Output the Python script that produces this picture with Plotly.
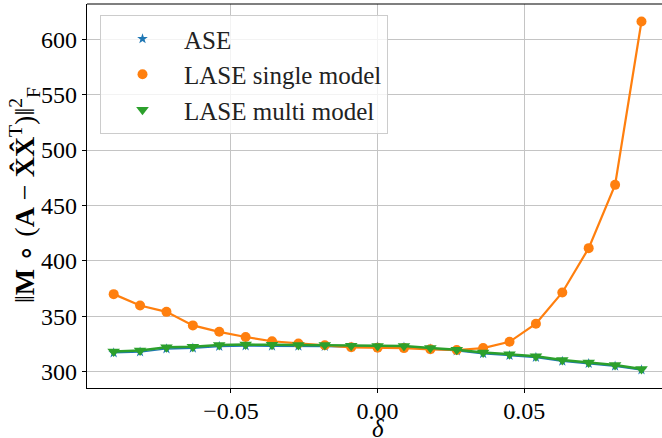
import plotly.graph_objects as go

delta = [-0.09, -0.081, -0.072, -0.063, -0.054, -0.045, -0.036, -0.027, -0.018, -0.009,
         0.0, 0.009, 0.018, 0.027, 0.036, 0.045, 0.054, 0.063, 0.072, 0.081, 0.09]

ase = [317.0, 317.8, 320.6, 321.2, 322.8, 323.3, 323.0, 323.0, 322.8, 322.3,
       322.3, 322.2, 320.6, 318.8, 316.3, 314.6, 312.9, 309.4, 307.4, 305.0, 301.6]

lase_single = [370.0, 359.7, 354.0, 341.8, 336.0, 331.3, 327.5, 325.4, 323.8, 322.0,
               321.7, 321.3, 320.2, 319.6, 321.3, 327.0, 343.3, 371.5, 411.5, 468.6, 616.0]

lase_multi = [318.3, 319.2, 322.0, 322.5, 324.0, 324.5, 324.3, 324.2, 324.0, 323.4,
              323.3, 323.2, 321.5, 319.8, 317.4, 315.8, 314.0, 310.5, 308.4, 306.0, 302.5]

x_ticks = [-0.05, 0.0, 0.05]
x_ticklabels = ["\u22120.05", "0.00", "0.05"]
y_ticks = [300, 350, 400, 450, 500, 550, 600]

FONT = "Liberation Serif"

series = [
    ("ASE", ase, "#1f77b4", 1.5, "star", 8, "a"),
    ("LASE single model", lase_single, "#ff7f0e", 2.2, "circle", 10, "b"),
    ("LASE multi model", lase_multi, "#2ca02c", 2.5, "triangle-down", 11, "c"),
]

fig = go.Figure()
for name, vals, color, lw, sym, ms, grp in series:
    fig.add_trace(go.Scatter(x=delta, y=vals, name=name, mode="lines",
                             legendgroup=grp, showlegend=False,
                             line=dict(color=color, width=lw)))
    fig.add_trace(go.Scatter(x=delta, y=vals, name=name, mode="markers",
                             legendgroup=grp, showlegend=True,
                             marker=dict(symbol=sym, size=ms, color=color)))

W, H = 662, 438
ML, MR, MT, MB = 87, 0, 4, 50

fig.update_layout(
    width=W, height=H,
    margin=dict(l=ML, r=MR, t=MT, b=MB, autoexpand=False),
    paper_bgcolor="white", plot_bgcolor="white",
    font=dict(family=FONT, size=24, color="black"),
    legend=dict(x=(100 - ML) / (W - ML - MR), y=1 - (15 - MT) / (H - MT - MB),
                xanchor="left", yanchor="top",
                bgcolor="rgba(255,255,255,0.8)", bordercolor="#cccccc", borderwidth=1,
                font=dict(family=FONT, size=25, color="#222222"),
                traceorder="grouped", tracegroupgap=0, itemwidth=73),
    xaxis=dict(range=[-0.0991, 0.0970], tickmode="array", tickvals=x_ticks,
               ticktext=x_ticklabels, showgrid=True, gridcolor="#c4c4c4", gridwidth=1,
               zeroline=False, showline=True, linecolor="black", linewidth=1.2,
               ticks="outside", ticklen=4, tickcolor="black", automargin=False,
               ticklabelstandoff=-3),
    yaxis=dict(range=[285.3, 631.8], tickmode="array", tickvals=y_ticks,
               showgrid=True, gridcolor="#c4c4c4", gridwidth=1,
               zeroline=False, showline=True, linecolor="black", linewidth=1.2,
               ticks="outside", ticklen=4, tickcolor="black", automargin=False),
    shapes=[dict(type="line", xref="paper", yref="paper", x0=0, x1=1, y0=1, y1=1,
                 line=dict(color="black", width=1.2))],
    annotations=[
        dict(text="<i>\u03b4</i>", xref="x", yref="paper", x=0.0,
             y=-(428 - (H - MB)) / (H - MT - MB), xanchor="center", yanchor="middle",
             showarrow=False, font=dict(family=FONT, size=25)),
        dict(text="\u2016<b>M</b> \u2218 (<b>A</b> \u2212 <b>X\u0302X\u0302</b><sup>T</sup>)\u2016<sup>2</sup><sub>F</sub>",
             xref="paper", yref="paper", x=-(ML - 25) / (W - ML - MR),
             y=1 - (195 - MT) / (H - MT - MB), xanchor="center", yanchor="middle",
             textangle=-90, showarrow=False, font=dict(family=FONT, size=28)),
    ],
)

fig.write_html("out.html", config={"displayModeBar": False},
               post_script="document.body.style.margin='0';document.body.style.overflow='hidden';")
